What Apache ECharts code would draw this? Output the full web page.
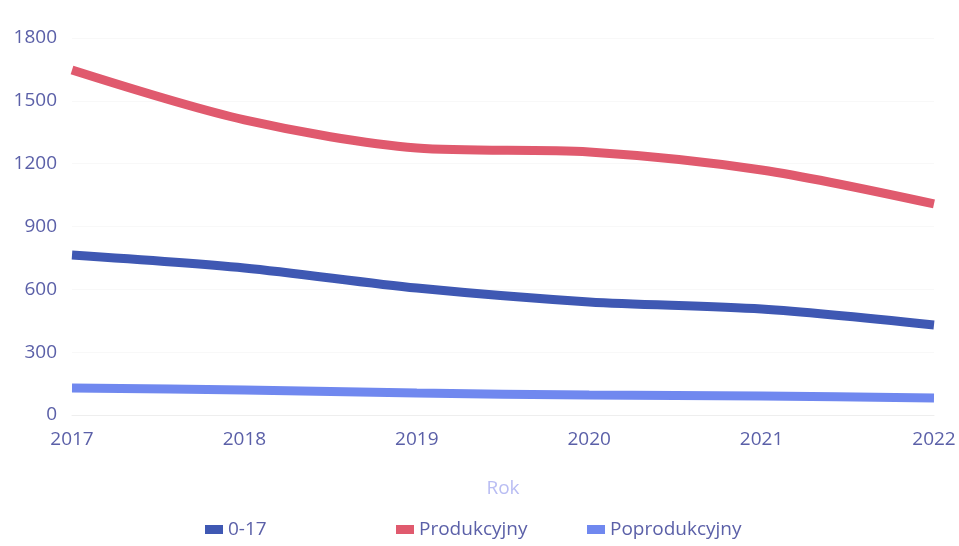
<!DOCTYPE html>
<html>
<head>
<meta charset="utf-8">
<script src="https://cdn.jsdelivr.net/npm/echarts@6/dist/echarts.min.js"></script>
<style>
  html, body { margin: 0; padding: 0; background: #fff; }
  #chart { width: 959px; height: 546px; }
</style>
</head>
<body>
<div id="chart"></div>
<script>
const years = ['2017', '2018', '2019', '2020', '2021', '2022']
const young = [764, 702, 606, 540, 506, 430]
const working = [1647, 1409, 1275, 1256, 1170, 1008]
const elderly = [129, 119, 105, 95, 91, 81]
const seriesNames = ['0-17', 'Produkcyjny', 'Poprodukcyjny']

const chart = echarts.init(document.getElementById('chart'))
const labelColor = '#5b60a8'
const font = '"Open Sans", "Noto Sans", sans-serif'

// one legend per item so the three entries sit at even steps
const legendLefts = [200, 391, 582]
const legends = seriesNames.map((name, i) => ({
  bottom: 2,
  left: legendLefts[i],
  icon: 'rect',
  itemWidth: 18,
  itemHeight: 9,
  textStyle: { color: labelColor, fontSize: 19, fontFamily: font },
  data: [name]
}))

const option = {
  animation: false,
  color: ['#3f58b3', '#e05a6e', '#7088ef'],
  textStyle: { fontFamily: font },
  grid: { left: 72, right: 25, top: 38, bottom: 131 },
  legend: legends,
  xAxis: {
    type: 'category',
    data: years,
    boundaryGap: false,
    name: 'Rok',
    nameLocation: 'middle',
    nameGap: 64,
    nameTextStyle: { color: '#b9bdf3', fontSize: 19, fontFamily: font },
    axisLine: { show: true, lineStyle: { color: '#eeeeee' } },
    axisTick: { show: false },
    axisLabel: { color: labelColor, fontSize: 19, margin: 15, fontFamily: font }
  },
  yAxis: {
    type: 'value',
    min: 0,
    max: 1800,
    interval: 300,
    axisLine: { show: false },
    axisTick: { show: false },
    splitLine: { show: true, lineStyle: { color: '#f8f8f8' } },
    axisLabel: { color: labelColor, fontSize: 19, margin: 15, fontFamily: font, formatter: v => String(v) }
  },
  series: [
    { name: seriesNames[0], type: 'line', data: young, smooth: 0.3, symbol: 'none', lineStyle: { width: 9 } },
    { name: seriesNames[1], type: 'line', data: working, smooth: 0.3, symbol: 'none', lineStyle: { width: 9 } },
    { name: seriesNames[2], type: 'line', data: elderly, smooth: 0.3, symbol: 'none', lineStyle: { width: 9 } }
  ]
}
chart.setOption(option)
</script>
</body>
</html>
